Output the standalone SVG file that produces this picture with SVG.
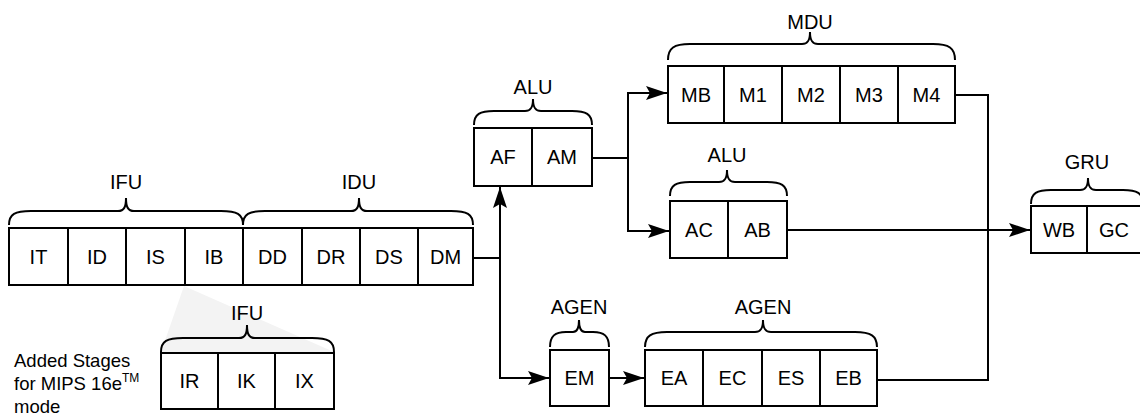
<svg xmlns="http://www.w3.org/2000/svg" width="1140" height="415" viewBox="0 0 1140 415">
<defs>
<style>
.box{fill:#fff;stroke:#000;stroke-width:2}
.div{stroke:#000;stroke-width:2}
.br{fill:none;stroke:#000;stroke-width:2}
.ln{fill:none;stroke:#000;stroke-width:2}
text{font-family:"Liberation Sans",Arial,Helvetica,sans-serif;font-size:20px;fill:#000}
.c{text-anchor:middle}
.note{font-size:18.5px}
</style>
<marker id="ah" viewBox="-22 -8 23 16" refX="0" refY="0" markerWidth="23" markerHeight="16" markerUnits="userSpaceOnUse" orient="auto">
<path d="M0,0 L-21,-7 L-17,0 L-21,7 Z" fill="#000"/>
</marker>
</defs>
<rect width="1140" height="415" fill="#fff"/>
<polygon points="184,286 161,352 334,352" fill="#f3f3f3"/>

<g id="connectors">
<path class="ln" d="M473,258 H500 V378 H549" marker-end="url(#ah)"/>
<path class="ln" d="M500,258 V187" marker-end="url(#ah)"/>
<path class="ln" d="M609,378 H644" marker-end="url(#ah)"/>
<path class="ln" d="M592,158 H628 V93 H667" marker-end="url(#ah)"/>
<path class="ln" d="M628,158 V231 H669" marker-end="url(#ah)"/>
<path class="ln" d="M955,95 H988 V380 H877"/>
<path class="ln" d="M787,230 H1030" marker-end="url(#ah)"/>
</g>

<g id="ifu-idu">
<rect class="box" x="9" y="228" width="464" height="57"/>
<path class="div" d="M68,228 V285 M126,228 V285 M185,228 V285 M243,228 V285 M302,228 V285 M360,228 V285 M418,228 V285"/>
<text class="c" x="38.5" y="264">IT</text>
<text class="c" x="97" y="264">ID</text>
<text class="c" x="155.5" y="264">IS</text>
<text class="c" x="214" y="264">IB</text>
<text class="c" x="272.5" y="264">DD</text>
<text class="c" x="331" y="264">DR</text>
<text class="c" x="389" y="264">DS</text>
<text class="c" x="445.5" y="264">DM</text>
<path class="br" d="M9,225 C9,214 15,211 31,211 L118,211 C124,211 126,207 126,198 C126,207 128,211 134,211 L221,211 C237,211 243,214 243,225"/>
<text class="c" x="126" y="189">IFU</text>
<path class="br" d="M243,225 C243,214 249,211 265,211 L351,211 C357,211 359,207 359,198 C359,207 361,211 367,211 L451,211 C467,211 473,214 473,225"/>
<text class="c" x="359" y="189">IDU</text>
</g>

<g id="ifu-added">
<rect class="box" x="161" y="353" width="173" height="56"/>
<path class="div" d="M218,353 V409 M275,353 V409"/>
<text class="c" x="189.5" y="388">IR</text>
<text class="c" x="246.5" y="388">IK</text>
<text class="c" x="304.5" y="388">IX</text>
<path class="br" d="M161,352 C161,341 167,338 183,338 L239,338 C245,338 247,334 247,325 C247,334 249,338 255,338 L312,338 C328,338 334,341 334,352"/>
<text class="c" x="247" y="320">IFU</text>
</g>

<g id="note">
<text class="note" x="14" y="367">Added Stages</text>
<text class="note" x="14" y="390">for MIPS 16e<tspan font-size="12" dy="-8">TM</tspan></text>
<text class="note" x="14" y="413">mode</text>
</g>

<g id="alu-top">
<rect class="box" x="474" y="128" width="118" height="58"/>
<path class="div" d="M532,128 V186"/>
<text class="c" x="503" y="164">AF</text>
<text class="c" x="562" y="164">AM</text>
<path class="br" d="M474,125 C474,114 480,111 494,111 L525,111 C531,111 533,107 533,99 C533,107 535,111 541,111 L572,111 C586,111 592,114 592,125"/>
<text class="c" x="533" y="94">ALU</text>
</g>

<g id="mdu">
<rect class="box" x="668" y="66" width="287" height="57"/>
<path class="div" d="M724,66 V123 M782,66 V123 M840,66 V123 M898,66 V123"/>
<text class="c" x="696" y="102">MB</text>
<text class="c" x="753" y="102">M1</text>
<text class="c" x="811" y="102">M2</text>
<text class="c" x="869" y="102">M3</text>
<text class="c" x="926.5" y="102">M4</text>
<path class="br" d="M668,60 C668,48 674,44 690,44 L802,44 C808,44 810,40 810,32 C810,40 812,44 818,44 L933,44 C949,44 955,48 955,60"/>
<text class="c" x="810" y="29">MDU</text>
</g>

<g id="alu-low">
<rect class="box" x="670" y="201" width="117" height="57"/>
<path class="div" d="M728,201 V258"/>
<text class="c" x="699" y="237">AC</text>
<text class="c" x="757.5" y="237">AB</text>
<path class="br" d="M670,196 C670,185 676,182 690,182 L719,182 C725,182 727,178 727,170 C727,178 729,182 735,182 L767,182 C781,182 787,185 787,196"/>
<text class="c" x="727" y="162">ALU</text>
</g>

<g id="gru">
<rect class="box" x="1031" y="206" width="112" height="47"/>
<path class="div" d="M1087,206 V253"/>
<text class="c" x="1059" y="237">WB</text>
<text class="c" x="1114" y="237">GC</text>
<path class="br" d="M1031,204 C1031,193 1037,190 1051,190 L1080,190 C1086,190 1088,186 1088,178 C1088,186 1090,190 1096,190 L1123,190 C1137,190 1143,193 1143,204"/>
<text class="c" x="1087" y="169">GRU</text>
</g>

<g id="agen-em">
<rect class="box" x="550" y="350" width="59" height="56"/>
<text class="c" x="579.5" y="385">EM</text>
<path class="br" d="M550,347 C550,336 555,332 566,332 L573,332 C577,332 579,328 579,320 C579,328 581,332 585,332 L593,332 C604,332 609,336 609,347"/>
<text class="c" x="579" y="314">AGEN</text>
</g>

<g id="agen">
<rect class="box" x="645" y="350" width="232" height="56"/>
<path class="div" d="M703,350 V406 M762,350 V406 M820,350 V406"/>
<text class="c" x="674" y="385">EA</text>
<text class="c" x="732.5" y="385">EC</text>
<text class="c" x="791" y="385">ES</text>
<text class="c" x="848.5" y="385">EB</text>
<path class="br" d="M645,347 C645,336 651,332 667,332 L755,332 C761,332 763,328 763,320 C763,328 765,332 771,332 L855,332 C871,332 877,336 877,347"/>
<text class="c" x="763" y="314">AGEN</text>
</g>
</svg>
